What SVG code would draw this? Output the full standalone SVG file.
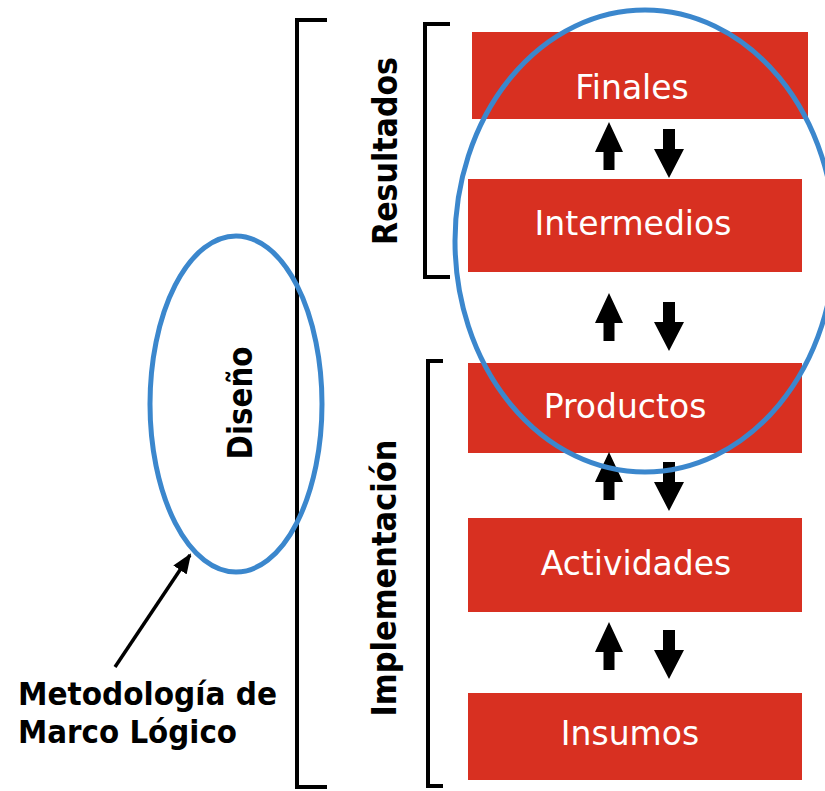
<svg xmlns="http://www.w3.org/2000/svg" width="825" height="791" viewBox="0 0 825 791">
<style>
.box{fill:#D83021}
.lbl{font-family:"DejaVu Sans",Verdana,sans-serif;font-size:33px;fill:#ffffff;text-anchor:middle}
.side{font-family:"DejaVu Sans",Verdana,sans-serif;font-size:34px;font-weight:bold;fill:#000;text-anchor:middle}
.note{font-family:"DejaVu Sans",Verdana,sans-serif;font-size:32px;font-weight:bold;fill:#000}
.brk{fill:none;stroke:#000;stroke-width:4}
.ring{fill:none;stroke:#3B87CD;stroke-width:5}
.blk{fill:#000}
</style>
<defs>
<path id="up" d="M0,0 L14,30 L5.5,30 L5.5,48 L-5.5,48 L-5.5,30 L-14,30 Z"/>
<path id="down" d="M-6,0 H6 V20 H15 L0,49 L-15,20 H-6 Z"/>
<marker id="ah" markerWidth="20" markerHeight="16" refX="18" refY="8" orient="auto" markerUnits="userSpaceOnUse">
<path d="M0,0 L20,8 L0,16 Z" fill="#000"/>
</marker>
</defs>

<g id="brackets">
<path class="brk" d="M327,20 H297 V787 H327"/>
<path class="brk" d="M450,24 H425 V277 H450"/>
<path class="brk" d="M443,361 H428 V786 H443"/>
</g>

<g id="label-resultados"><text class="side" transform="translate(397,151) rotate(-90)" textLength="188" lengthAdjust="spacingAndGlyphs">Resultados</text></g>
<g id="label-implementacion"><text class="side" transform="translate(396,578) rotate(-90)" textLength="277" lengthAdjust="spacingAndGlyphs">Implementación</text></g>

<g id="finales"><rect class="box" x="472" y="32" width="336" height="87"/><text class="lbl" x="632" y="99">Finales</text></g>
<g id="intermedios"><rect class="box" x="468" y="179" width="334" height="93"/><text class="lbl" x="633" y="235">Intermedios</text></g>
<g id="productos"><rect class="box" x="468" y="363" width="334" height="90"/><text class="lbl" x="625" y="418">Productos</text></g>
<g id="actividades"><rect class="box" x="468" y="518" width="334" height="94"/><text class="lbl" x="636" y="575">Actividades</text></g>
<g id="insumos"><rect class="box" x="468" y="693" width="334" height="87"/><text class="lbl" x="630" y="745">Insumos</text></g>

<g id="connectors" class="blk">
<use href="#up" x="609" y="122"/>
<use href="#down" x="669" y="129"/>
<use href="#up" x="609" y="293"/>
<use href="#down" x="669" y="302"/>
<use href="#up" x="609" y="452"/>
<use href="#down" x="669" y="462"/>
<use href="#up" x="609" y="622"/>
<use href="#down" x="669" y="630"/>
<line x1="115" y1="667" x2="190" y2="555" stroke="#000" stroke-width="3.5" marker-end="url(#ah)"/>
</g>

<g id="diseno">
<ellipse class="ring" cx="236" cy="404" rx="86" ry="168"/>
<text class="side" transform="translate(252,403) rotate(-90)" textLength="113" lengthAdjust="spacingAndGlyphs">Diseño</text>
</g>

<g id="resultados-ring"><ellipse class="ring" cx="645" cy="241" rx="190" ry="231"/></g>

<g id="metodologia">
<text class="note" x="18" y="705" textLength="259" lengthAdjust="spacingAndGlyphs">Metodología de</text>
<text class="note" x="18" y="743" textLength="219" lengthAdjust="spacingAndGlyphs">Marco Lógico</text>
</g>
</svg>
